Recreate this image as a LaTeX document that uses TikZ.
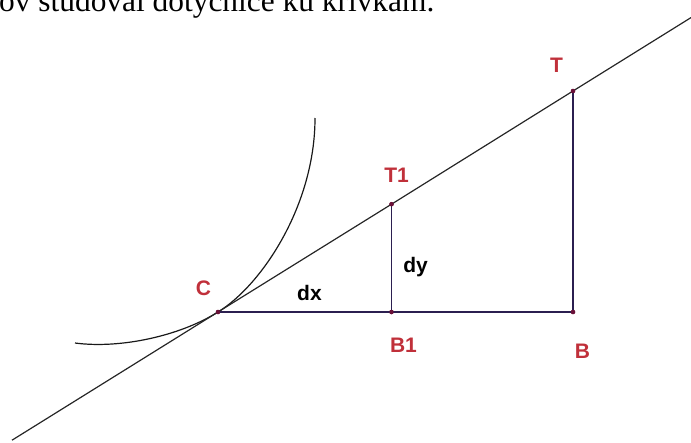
\documentclass[tikz,border=0pt]{standalone}
\usepackage{fontspec}
\setmainfont{Liberation Serif}
\newfontfamily\labfont{Liberation Sans}
\definecolor{navy}{HTML}{2B1F50}
\definecolor{ptcol}{HTML}{6A1038}
\definecolor{labred}{HTML}{C0303A}
\tikzset{
  seg/.style={draw=navy, line width=1.4pt},
  tang/.style={draw=black!85, line width=1.2pt},
  curvestyle/.style={draw=black!90, line width=1.2pt},
  ptlab/.style={text=labred, font=\labfont\bfseries\fontsize{21}{23}\selectfont, inner sep=0pt},
  dlab/.style={text=black, font=\labfont\bfseries\fontsize{21}{23}\selectfont, inner sep=0pt},
  dot/.style={circle, fill=ptcol, inner sep=0pt, minimum size=4.5pt}
}
\begin{document}
\begin{tikzpicture}[x=1pt,y=-1pt]
\useasboundingbox (0,0) rectangle (691,442);
\clip (0,0) rectangle (691,442);
% cut-off caption at top (as in the reference)
\node[anchor=base west, inner sep=0pt, font=\fontsize{31.4}{36}\selectfont] (cap) at (-1,11) {ov študoval dotyčnice ku krivkám.};
% points
\node[dot] (C) at (218,312) {};
\node[dot] (B1) at (391.5,312) {};
\node[dot] (B) at (573,312) {};
\node[dot] (T1) at (391.5,204.2) {};
\node[dot] (T) at (573,91) {};
\coordinate (Lend) at (12,440.2);
\coordinate (Rend) at (691,17.6);
% curve
\draw[curvestyle] (75,343) .. controls (120,349) and (180,336) .. (C.center)
  .. controls (262,285) and (315,205) .. (315,118);
% tangent
\draw[tang] (Lend) -- (C.center) -- (T1.center) -- (T.center) -- (Rend);
% triangle lines
\draw[seg] (C.center) -- (B1.center) -- (B.center);
\draw[seg] (B1.center) -- (T1.center);
\draw[seg] (B.center) -- (T.center);
% dots on top
\foreach \p in {C,B1,B,T1,T} \fill[ptcol] (\p.center) circle (2.2pt);
% labels
\node[ptlab] (lC) at (203.5,288) {C};
\node[ptlab] (lB1) at (403.5,345.5) {B1};
\node[ptlab] (lB) at (582.5,351) {B};
\node[ptlab] (lT1) at (396.5,175) {T1};
\node[ptlab] (lT) at (556.5,65) {T};
\node[dlab, anchor=base] (ldx) at (309.5,300) {dx};
\node[dlab, anchor=base] (ldy) at (415.5,272) {dy};
\end{tikzpicture}
\end{document}
